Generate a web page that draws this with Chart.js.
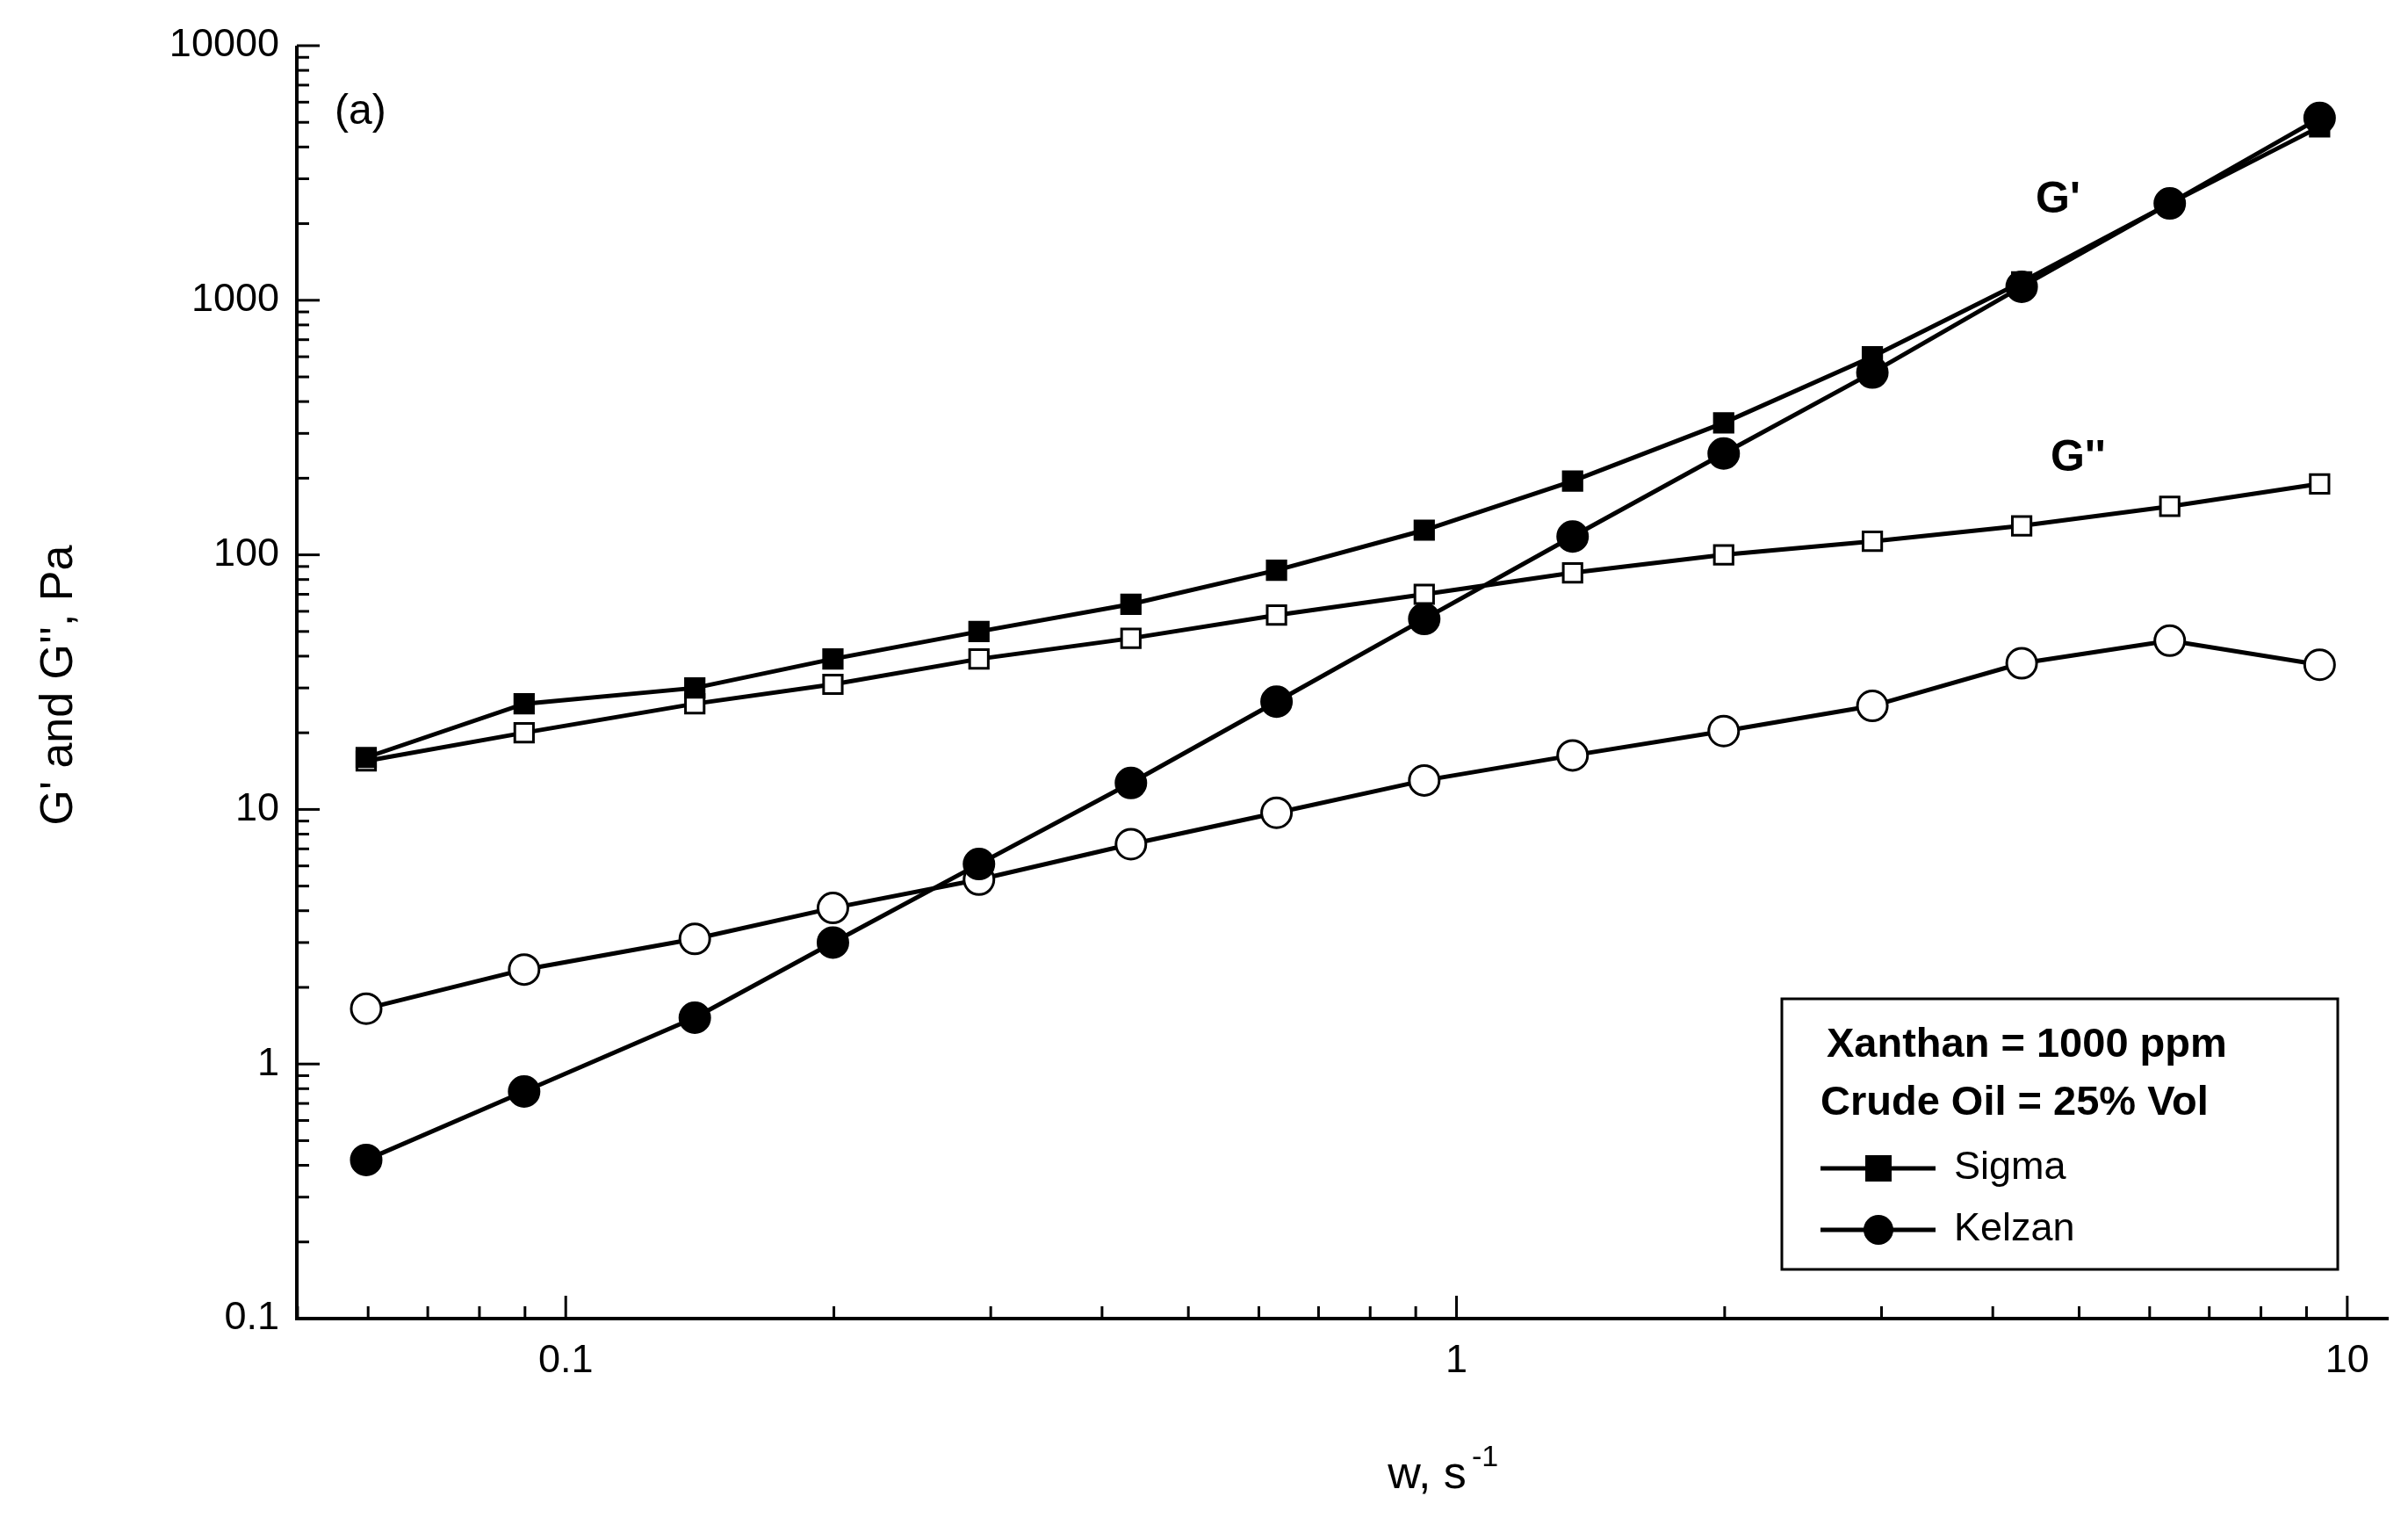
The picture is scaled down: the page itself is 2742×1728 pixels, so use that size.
<!DOCTYPE html>
<html><head><meta charset="utf-8">
<script src="https://cdn.jsdelivr.net/npm/chart.js@4"></script>
<style>html,body{margin:0;padding:0;background:#fff}#w{width:2742px;height:1728px}</style>
</head><body><div id="w"><canvas id="c"></canvas></div>
<script>
const freq = [0.0597,0.0898,0.1396,0.1995,0.291,0.431,0.628,0.92,1.35,1.995,2.93,4.31,6.32,9.31];
const sigmaG1 = [16,26,30,39,50,64,87,125,195,330,600,1180,2400,4800];
const sigmaG2 = [15.5,20,26,31,39,47,58,70,85,100,113,130,155,190];
const kelzanG1 = [0.42,0.78,1.52,3.0,6.1,12.7,26.5,56,118,250,520,1130,2400,5200];
const kelzanG2 = [1.65,2.35,3.1,4.1,5.3,7.3,9.7,13,16.3,20.3,25.5,37.5,46,37];
const xTicks = [0.1,1,10];
const yTicks = [0.1,1,10,100,1000,10000];

const pts = a => a.map((v,i)=>({x:freq[i],y:v}));
function ds(data, style, fill){
  return {data:pts(data), borderColor:'#000', borderWidth:5, pointStyle:style,
    pointRadius: style==='rect'?15:17, pointBackgroundColor:fill?'#000':'#fff',
    pointBorderColor:'#000', pointBorderWidth:3, tension:0};
}
const F='Arial, "Liberation Sans", sans-serif';
const deco = {id:'deco', afterDraw(ch){
  const c=ch.ctx, xs=ch.scales.x, ys=ch.scales.y, a=ch.chartArea;
  c.save(); c.strokeStyle='#000'; c.lineWidth=4;
  c.beginPath(); c.moveTo(a.left,a.top); c.lineTo(a.left,a.bottom); c.lineTo(a.right,a.bottom); c.stroke();
  c.lineWidth=3;
  for(let e=-2;e<=1;e++) for(let m=1;m<10;m++){const v=m*Math.pow(10,e); if(v<xs.min||v>xs.max)continue;
    const p=xs.getPixelForValue(v), L=m===1?26:14; c.beginPath(); c.moveTo(p,a.bottom); c.lineTo(p,a.bottom-L); c.stroke();}
  for(let e=-1;e<=4;e++) for(let m=1;m<10;m++){const v=m*Math.pow(10,e); if(v<ys.min||v>ys.max)continue;
    const p=ys.getPixelForValue(v), L=m===1?26:14; c.beginPath(); c.moveTo(a.left,p); c.lineTo(a.left+L,p); c.stroke();}
  c.fillStyle='#000'; c.textBaseline='middle';
  c.font='48px '+F; c.textAlign='left'; c.fillText('(a)',381,128);
  c.font='bold 50px '+F; c.fillText("G'",2318,228); c.fillText("G''",2335,522);
  // axis titles
  c.font='52px '+F; c.textAlign='center';
  c.fillText('w, s',1625,1680);
  c.font='34px '+F; c.textAlign='left'; c.fillText('-1',1676,1660);
  c.save(); c.translate(68,780); c.rotate(-Math.PI/2); c.font='52px '+F; c.textAlign='center';
  c.fillText("G' and G'', Pa",0,0); c.restore();
  // legend
  c.lineWidth=3; c.strokeRect(2029,1137,633,308);
  c.font='bold 47px '+F; c.textAlign='left';
  c.fillText('Xanthan = 1000 ppm',2080,1190); c.fillText('Crude Oil = 25% Vol',2073,1256);
  c.font='45px '+F;
  c.fillText('Sigma',2225,1330); c.fillText('Kelzan',2225,1400);
  c.lineWidth=5;
  c.beginPath(); c.moveTo(2073,1330); c.lineTo(2204,1330); c.moveTo(2073,1400); c.lineTo(2204,1400); c.stroke();
  c.fillRect(2124,1315,30,30);
  c.beginPath(); c.arc(2139,1400,17,0,2*Math.PI); c.fill();
  c.restore();
}};
new Chart(document.getElementById('c'),{
  type:'line',
  data:{datasets:[ds(sigmaG1,'rect',true),ds(sigmaG2,'rect',false),ds(kelzanG1,'circle',true),ds(kelzanG2,'circle',false)]},
  options:{responsive:true,maintainAspectRatio:false,animation:false,
    layout:{padding:{top:52,right:22,left:0,bottom:0}},
    plugins:{legend:{display:false},tooltip:{enabled:false}},
    scales:{
      x:{type:'logarithmic',min:0.0499,max:11.13,
        afterBuildTicks:s=>{s.ticks=xTicks.map(v=>({value:v}));},
        afterFit:s=>{s.height=227;},
        grid:{display:false,drawTicks:false},border:{display:false},
        ticks:{color:'#000',font:{size:45,family:F},padding:22,callback:v=>String(v),maxRotation:0}},
      y:{type:'logarithmic',min:0.1,max:10000,
        afterBuildTicks:s=>{s.ticks=yTicks.map(v=>({value:v}));},
        afterFit:s=>{s.width=338;},
        grid:{display:false,drawTicks:false},border:{display:false},
        ticks:{color:'#000',font:{size:45,family:F},padding:20,callback:v=>String(v)}}
    }},
  plugins:[deco]
});
</script></body></html>
